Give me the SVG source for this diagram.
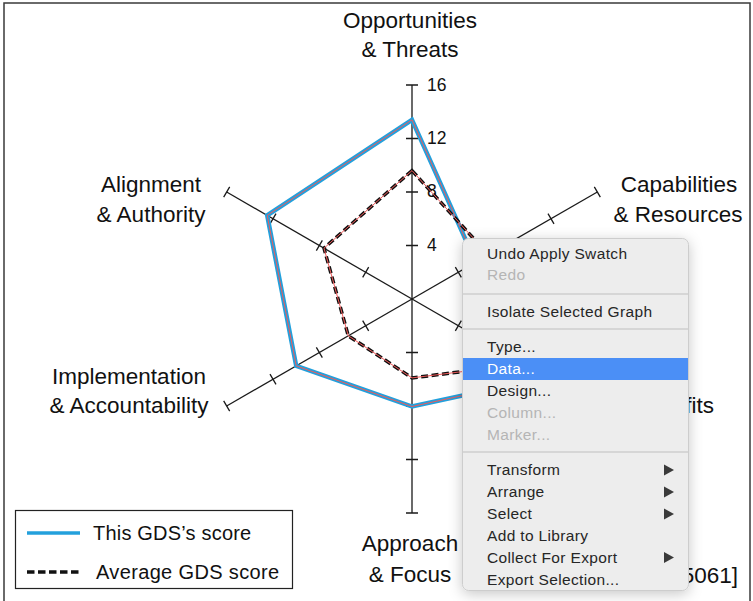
<svg xmlns="http://www.w3.org/2000/svg" xmlns:xlink="http://www.w3.org/1999/xlink" width="753" height="601" viewBox="0 0 753 601">
<style>
.lbl{font-family:"Liberation Sans",Arial,sans-serif;font-size:22.5px;fill:#111;text-anchor:middle}
.num{font-family:"Liberation Sans",Arial,sans-serif;font-size:17.5px;fill:#111}
.leg{font-family:"Liberation Sans",Arial,sans-serif;font-size:20px;fill:#111}
.mi{font-family:"Liberation Sans",Arial,sans-serif;font-size:15.5px;letter-spacing:0.35px;fill:#262626}
.dis{fill:#b5b5b5}
.axis{stroke:#1a1a1a;stroke-width:1.3;fill:none}
.sep{stroke:#d6d6d6;stroke-width:2}
.blue{fill:none;stroke:#23a0dc;stroke-width:4.5;stroke-linejoin:miter}
.avg{fill:none;stroke:#111;stroke-width:3.5;stroke-dasharray:7 3.5}
.sel{fill:none;stroke:#f05a5a;stroke-width:1}
.arr{fill:#3a3a3a}
</style>
<defs>
<g id="axis">
<line class="axis" x1="412" y1="299" x2="412" y2="85"/>
<path class="axis" d="M406,245.5H418M406,192H418M406,138.5H418M406,85H418"/>
</g>
<filter id="sh" x="-15%" y="-10%" width="130%" height="120%">
<feDropShadow dx="0" dy="3" stdDeviation="7" flood-color="#000" flood-opacity="0.22"/>
</filter>
</defs>
<rect x="4" y="3" width="746" height="640" fill="none" stroke="#3a3a3a" stroke-width="1.5"/>
<g id="axes">
<use xlink:href="#axis"/>
<use xlink:href="#axis" transform="rotate(60 412 299)"/>
<use xlink:href="#axis" transform="rotate(120 412 299)"/>
<use xlink:href="#axis" transform="rotate(180 412 299)"/>
<use xlink:href="#axis" transform="rotate(240 412 299)"/>
<use xlink:href="#axis" transform="rotate(300 412 299)"/>
</g>
<g id="scale">
<text class="num" x="427" y="91">16</text>
<text class="num" x="427" y="144">12</text>
<text class="num" x="427" y="197">8</text>
<text class="num" x="427" y="251">4</text>
</g>
<g id="labels">
<text class="lbl" x="410" y="28">Opportunities</text>
<text class="lbl" x="410" y="57">&amp; Threats</text>
<text class="lbl" x="679" y="192">Capabilities</text>
<text class="lbl" x="678" y="222">&amp; Resources</text>
<text class="lbl" x="151" y="192">Alignment</text>
<text class="lbl" x="151" y="222">&amp; Authority</text>
<text class="lbl" x="129" y="384">Implementation</text>
<text class="lbl" x="129" y="413">&amp; Accountability</text>
<text class="lbl" x="410" y="551">Approach</text>
<text class="lbl" x="410" y="582">&amp; Focus</text>
<text class="lbl" x="714" y="413" style="text-anchor:end">&amp; Benefits</text>
<text class="lbl" x="738" y="583" style="text-anchor:end">[5061]</text>
</g>
<g id="series-this">
<polygon class="blue" points="412,119.8 475.7,262.2 547.5,377.2 412,406.5 296.2,365.9 267.2,215.4"/>
<polygon class="sel" points="412,119.8 475.7,262.2 547.5,377.2 412,406.5 296.2,365.9 267.2,215.4"/>
</g>
<g id="series-avg">
<polygon class="avg" points="412,170.6 488.5,254.9 524.3,363.9 412,377.9 348.3,335.8 324,248.2"/>
<polygon class="sel" points="412,170.6 488.5,254.9 524.3,363.9 412,377.9 348.3,335.8 324,248.2"/>
</g>
<g id="legend">
<rect x="15.5" y="510.5" width="277" height="78" fill="#fff" stroke="#222" stroke-width="1.2"/>
<line x1="27" y1="533" x2="80" y2="533" stroke="#23a0dc" stroke-width="3.5"/>
<text class="leg" x="93" y="540" style="letter-spacing:0.2px">This GDS’s score</text>
<line x1="27" y1="572" x2="80" y2="572" stroke="#111" stroke-width="3.5" stroke-dasharray="7.5 3.5"/>
<text class="leg" x="96" y="579" style="letter-spacing:0.35px">Average GDS score</text>
</g>
<g id="context-menu">
<rect x="462.5" y="238.5" width="226" height="352" rx="6" fill="#ededed" stroke="#cdcdcd" filter="url(#sh)"/>
<rect x="463" y="358" width="225" height="22" fill="#4b8ff6"/>
<line class="sep" x1="463" y1="294" x2="688" y2="294"/>
<line class="sep" x1="463" y1="329" x2="688" y2="329"/>
<line class="sep" x1="463" y1="452" x2="688" y2="452"/>
<text class="mi" x="487" y="259">Undo Apply Swatch</text>
<text class="mi dis" x="487" y="280">Redo</text>
<text class="mi" x="487" y="317">Isolate Selected Graph</text>
<text class="mi" x="487" y="352">Type...</text>
<text class="mi" x="487" y="374" style="fill:#fff">Data...</text>
<text class="mi" x="487" y="396">Design...</text>
<text class="mi dis" x="487" y="418">Column...</text>
<text class="mi dis" x="487" y="440">Marker...</text>
<text class="mi" x="487" y="475">Transform</text>
<text class="mi" x="487" y="497">Arrange</text>
<text class="mi" x="487" y="519">Select</text>
<text class="mi" x="487" y="541">Add to Library</text>
<text class="mi" x="487" y="563">Collect For Export</text>
<text class="mi" x="487" y="585">Export Selection...</text>
<polygon class="arr" points="664,464.5 674,470 664,475.5"/>
<polygon class="arr" points="664,486.5 674,492 664,497.5"/>
<polygon class="arr" points="664,508.5 674,514 664,519.5"/>
<polygon class="arr" points="664,552 674,557.5 664,563"/>
</g>
</svg>
